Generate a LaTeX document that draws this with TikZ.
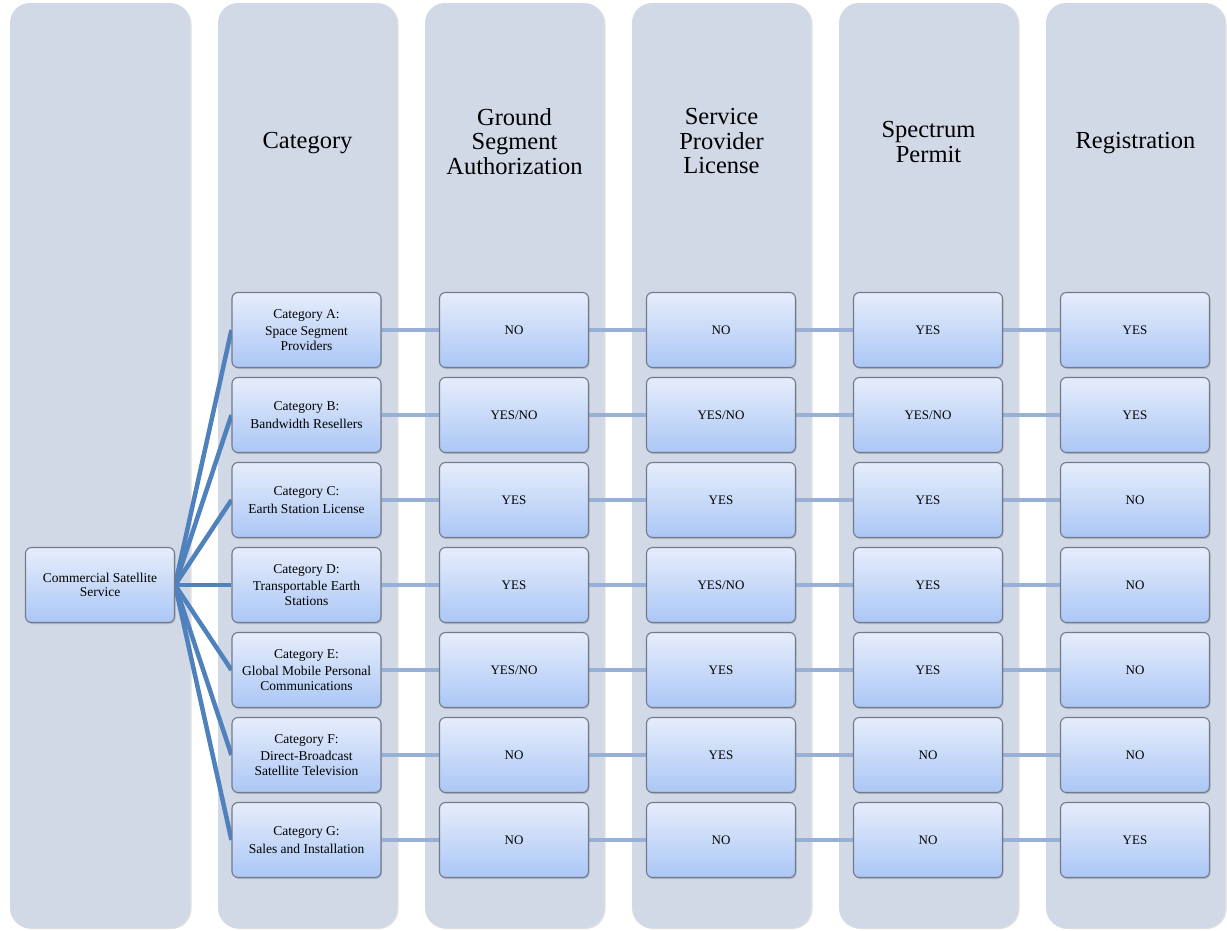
\documentclass[tikz,border=0pt]{standalone}
\usepackage{fontspec}
\setmainfont{Liberation Serif}
\usetikzlibrary{shadows,backgrounds}

\begin{document}
\begin{tikzpicture}[x=1pt,y=-1pt,
  lane/.style={fill=lane_gray, rounded corners=20pt,
    drop shadow={shadow xshift=1.5pt, shadow yshift=-1pt, opacity=0.25}},
  box/.style={draw=box_border, line width=1.1pt, rounded corners=6pt,
    top color=box_top, bottom color=box_bottom,
    minimum width=149pt, minimum height=75pt, align=center, inner sep=2pt,
    font=\fontsize{13.5}{14.5}\selectfont,
    drop shadow={shadow xshift=1pt, shadow yshift=-1.5pt, opacity=0.35}},
  value/.style={box, font=\fontsize{13}{14}\selectfont},
  head/.style={align=center, font=\fontsize{24.5}{24.5}\selectfont},
  spoke/.style={draw=spoke_blue, line width=4.5pt},
  link/.style={draw=link_blue, line width=4pt}]

\definecolor{lane_gray}{HTML}{D1D9E7}
\definecolor{box_border}{HTML}{737A8A}
\definecolor{box_top}{HTML}{E6EDFB}
\definecolor{box_bottom}{HTML}{ABC7F6}
\definecolor{spoke_blue}{HTML}{4F81BD}
\definecolor{link_blue}{HTML}{98B0D6}

\useasboundingbox (0,0) rectangle (1227,930);

% lanes
\begin{scope}[on background layer]
\fill[white] (0,0) rectangle (1227,930);
\path[lane] (10,3) rectangle (190,928);
\path[lane] (218,3) rectangle (397,928);
\path[lane] (425,3) rectangle (604,928);
\path[lane] (632,3) rectangle (811,928);
\path[lane] (839,3) rectangle (1018,928);
\path[lane] (1046,3) rectangle (1225,928);
\end{scope}

% headers
\node[head] (hcat) at (307.5,143) {Category};
\node[head] (hgsa) at (514.5,141.5) {Ground\\Segment\\Authorization};
\node[head] (hspl) at (721.5,141.5) {Service\\Provider\\License};
\node[head] (hspm) at (928.5,142) {Spectrum\\Permit};
\node[head] (hreg) at (1135.5,143) {Registration};

% service and categories
\node[box] (css) at (100,585) {Commercial Satellite\\Service};

\node[box] (catA) at (306.5,330) {Category A:\\[3pt]Space Segment\\Providers};
\node[box] (catB) at (306.5,415) {Category B:\\[3pt]Bandwidth Resellers};
\node[box] (catC) at (306.5,500) {Category C:\\[3pt]Earth Station License};
\node[box] (catD) at (306.5,585) {Category D:\\[3pt]Transportable Earth\\Stations};
\node[box] (catE) at (306.5,670) {Category E:\\[3pt]Global Mobile Personal\\Communications};
\node[box] (catF) at (306.5,755) {Category F:\\[3pt]Direct-Broadcast\\Satellite Television};
\node[box] (catG) at (306.5,840) {Category G:\\[3pt]Sales and Installation};

% ground segment authorization
\node[value] (gsaA) at (514,330) {NO};
\node[value] (gsaB) at (514,415) {YES/NO};
\node[value] (gsaC) at (514,500) {YES};
\node[value] (gsaD) at (514,585) {YES};
\node[value] (gsaE) at (514,670) {YES/NO};
\node[value] (gsaF) at (514,755) {NO};
\node[value] (gsaG) at (514,840) {NO};

% service provider license
\node[value] (splA) at (721,330) {NO};
\node[value] (splB) at (721,415) {YES/NO};
\node[value] (splC) at (721,500) {YES};
\node[value] (splD) at (721,585) {YES/NO};
\node[value] (splE) at (721,670) {YES};
\node[value] (splF) at (721,755) {YES};
\node[value] (splG) at (721,840) {NO};

% spectrum permit
\node[value] (spmA) at (928,330) {YES};
\node[value] (spmB) at (928,415) {YES/NO};
\node[value] (spmC) at (928,500) {YES};
\node[value] (spmD) at (928,585) {YES};
\node[value] (spmE) at (928,670) {YES};
\node[value] (spmF) at (928,755) {NO};
\node[value] (spmG) at (928,840) {NO};

% registration
\node[value] (regA) at (1135,330) {YES};
\node[value] (regB) at (1135,415) {YES};
\node[value] (regC) at (1135,500) {NO};
\node[value] (regD) at (1135,585) {NO};
\node[value] (regE) at (1135,670) {NO};
\node[value] (regF) at (1135,755) {NO};
\node[value] (regG) at (1135,840) {YES};

% connectors
\begin{scope}[on background layer]
\foreach \r in {A,B,C,D,E,F,G} {
  \draw[spoke] (css.east) -- (cat\r.west);
  \draw[link] (cat\r.east) -- (gsa\r.west);
  \draw[link] (gsa\r.east) -- (spl\r.west);
  \draw[link] (spl\r.east) -- (spm\r.west);
  \draw[link] (spm\r.east) -- (reg\r.west);
}
\end{scope}

\end{tikzpicture}
\end{document}
